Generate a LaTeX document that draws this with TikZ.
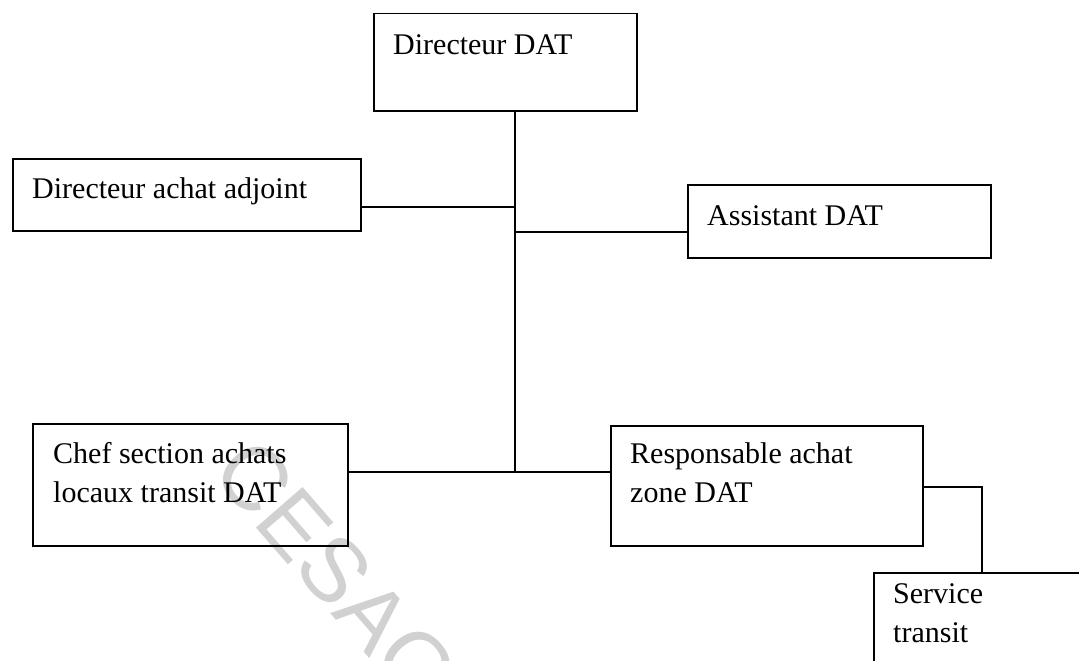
\documentclass[tikz,border=0pt]{standalone}
\usepackage{fontspec}
\setmainfont{Liberation Serif}
\newfontfamily\wmfont{Liberation Sans}
\begin{document}
\begin{tikzpicture}[x=1pt,y=-1pt,
  orgbox/.style={draw=black, line width=1.5pt, inner sep=0pt, anchor=north west},
  boxtext/.style={anchor=base west, inner sep=0pt, align=left,
    font=\fontsize{30}{39}\selectfont},
  link/.style={draw=black, line width=1.2pt}]
\useasboundingbox (0,0) rectangle (1079,661);

% watermark
\node[rotate=-49, text=black!18, font=\wmfont\fontsize{90}{90}\selectfont]
  (wm) at (336,572) {CESAG};

% boxes
\node[orgbox, minimum width=263pt, minimum height=97pt]  (dir)  at (373,13)  {};
\node[orgbox, minimum width=348pt, minimum height=72pt]  (daa)  at (12,158)  {};
\node[orgbox, minimum width=303pt, minimum height=73pt]  (asst) at (687,184) {};
\node[orgbox, minimum width=315pt, minimum height=122pt] (chef) at (32,423)  {};
\node[orgbox, minimum width=312pt, minimum height=120pt] (resp) at (610,425) {};
\node[orgbox, minimum width=250pt, minimum height=120pt] (serv) at (873,572) {};

% box labels (multi-line labels are anchored on their last line)
\node[boxtext] (tdir)  at (393,55)  {Directeur DAT};
\node[boxtext] (tdaa)  at (32,198)  {Directeur achat adjoint};
\node[boxtext] (tasst) at (707,225) {Assistant DAT};
\node[boxtext] (tchef) at (53,502)  {Chef section achats\\locaux transit DAT};
\node[boxtext] (tresp) at (630,502) {Responsable achat\\zone DAT};
\node[boxtext] (tserv) at (893,642) {Service\\transit};

% junction points on the trunk
\coordinate (j1) at (515,207);
\coordinate (j2) at (515,232);
\coordinate (j3) at (515,472);
\coordinate (k)  at (982,487);

% connectors
\draw[link] (dir.south -| j3) -- (j3);
\draw[link] (daa.east |- j1) -- (j1);
\draw[link] (j2) -- (asst.west |- j2);
\draw[link] (chef.east |- j3) -- (resp.west |- j3);
\draw[link] (resp.east |- k) -- (k) -- (serv.north -| k);
\end{tikzpicture}
\end{document}
